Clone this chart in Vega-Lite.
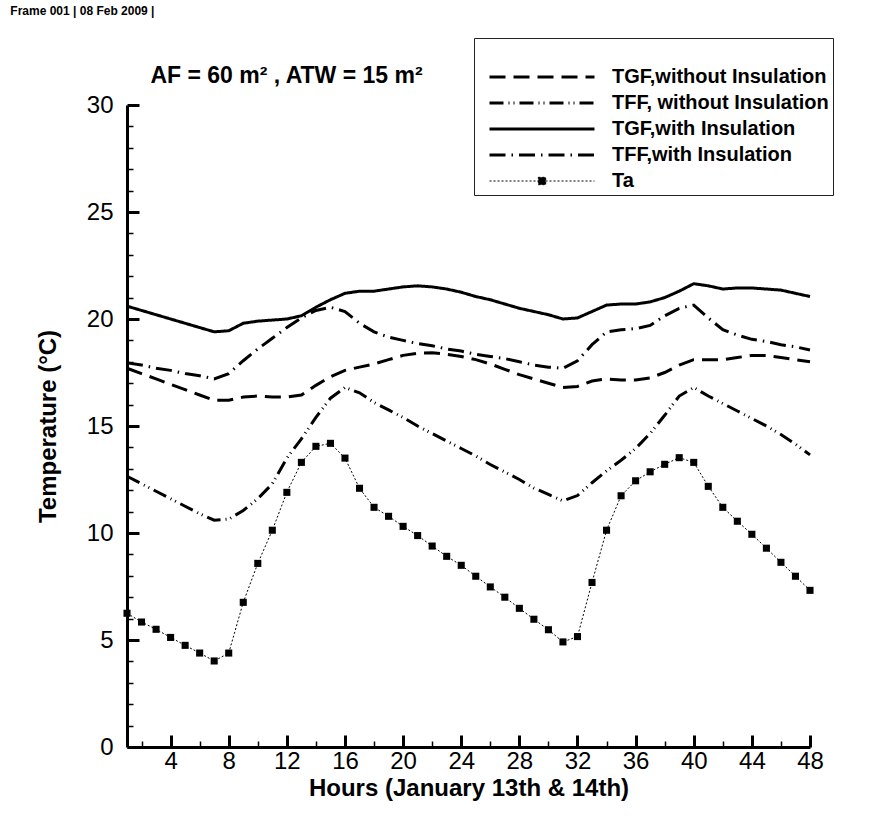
{
  "$schema": "https://vega.github.io/schema/vega-lite/v6.json",
  "padding": {"left": 10, "top": 4, "right": 5, "bottom": 5},
  "title": {
    "text": "Frame 001 | 08 Feb 2009 |",
    "anchor": "start",
    "frame": "bounds",
    "font": "Liberation Sans",
    "fontSize": 12,
    "fontWeight": "bold",
    "color": "black",
    "dx": -26,
    "offset": 20
  },
  "data": {
    "values": [
      {"hour": 1, "gf0": 17.7, "ff0": 12.65, "gf1": 20.6, "ff1": 17.95, "ta": 6.25},
      {"hour": 2, "gf0": 17.45, "ff0": 12.3, "gf1": 20.4, "ff1": 17.85, "ta": 5.84},
      {"hour": 3, "gf0": 17.2, "ff0": 11.95, "gf1": 20.2, "ff1": 17.7, "ta": 5.5},
      {"hour": 4, "gf0": 16.95, "ff0": 11.6, "gf1": 20.0, "ff1": 17.6, "ta": 5.12},
      {"hour": 5, "gf0": 16.7, "ff0": 11.25, "gf1": 19.8, "ff1": 17.45, "ta": 4.75},
      {"hour": 6, "gf0": 16.45, "ff0": 10.9, "gf1": 19.6, "ff1": 17.35, "ta": 4.39},
      {"hour": 7, "gf0": 16.2, "ff0": 10.6, "gf1": 19.4, "ff1": 17.2, "ta": 4.02},
      {"hour": 8, "gf0": 16.2, "ff0": 10.65, "gf1": 19.45, "ff1": 17.45, "ta": 4.39},
      {"hour": 9, "gf0": 16.35, "ff0": 11.05, "gf1": 19.8, "ff1": 18.05, "ta": 6.76},
      {"hour": 10, "gf0": 16.4, "ff0": 11.6, "gf1": 19.9, "ff1": 18.6, "ta": 8.58},
      {"hour": 11, "gf0": 16.35, "ff0": 12.3, "gf1": 19.95, "ff1": 19.1, "ta": 10.13},
      {"hour": 12, "gf0": 16.35, "ff0": 13.5, "gf1": 20.0, "ff1": 19.6, "ta": 11.9},
      {"hour": 13, "gf0": 16.45, "ff0": 14.4, "gf1": 20.15, "ff1": 20.05, "ta": 13.3},
      {"hour": 14, "gf0": 16.9, "ff0": 15.4, "gf1": 20.55, "ff1": 20.4, "ta": 14.05},
      {"hour": 15, "gf0": 17.3, "ff0": 16.3, "gf1": 20.9, "ff1": 20.55, "ta": 14.19},
      {"hour": 16, "gf0": 17.6, "ff0": 16.8, "gf1": 21.2, "ff1": 20.35, "ta": 13.5},
      {"hour": 17, "gf0": 17.75, "ff0": 16.55, "gf1": 21.3, "ff1": 19.8, "ta": 12.09},
      {"hour": 18, "gf0": 17.9, "ff0": 16.1, "gf1": 21.3, "ff1": 19.4, "ta": 11.2},
      {"hour": 19, "gf0": 18.1, "ff0": 15.75, "gf1": 21.4, "ff1": 19.15, "ta": 10.78},
      {"hour": 20, "gf0": 18.3, "ff0": 15.4, "gf1": 21.5, "ff1": 19.0, "ta": 10.31},
      {"hour": 21, "gf0": 18.4, "ff0": 15.0, "gf1": 21.55, "ff1": 18.85, "ta": 9.88},
      {"hour": 22, "gf0": 18.42, "ff0": 14.65, "gf1": 21.5, "ff1": 18.75, "ta": 9.39},
      {"hour": 23, "gf0": 18.35, "ff0": 14.3, "gf1": 21.4, "ff1": 18.6, "ta": 8.91},
      {"hour": 24, "gf0": 18.25, "ff0": 13.95, "gf1": 21.25, "ff1": 18.5, "ta": 8.49},
      {"hour": 25, "gf0": 18.1, "ff0": 13.6, "gf1": 21.05, "ff1": 18.35, "ta": 7.98},
      {"hour": 26, "gf0": 17.9, "ff0": 13.2, "gf1": 20.9, "ff1": 18.25, "ta": 7.48},
      {"hour": 27, "gf0": 17.65, "ff0": 12.85, "gf1": 20.7, "ff1": 18.15, "ta": 7.0},
      {"hour": 28, "gf0": 17.4, "ff0": 12.5, "gf1": 20.5, "ff1": 18.0, "ta": 6.48},
      {"hour": 29, "gf0": 17.2, "ff0": 12.1, "gf1": 20.35, "ff1": 17.85, "ta": 5.97},
      {"hour": 30, "gf0": 17.0, "ff0": 11.8, "gf1": 20.2, "ff1": 17.75, "ta": 5.48},
      {"hour": 31, "gf0": 16.8, "ff0": 11.5, "gf1": 20.0, "ff1": 17.7, "ta": 4.91},
      {"hour": 32, "gf0": 16.85, "ff0": 11.75, "gf1": 20.05, "ff1": 18.05, "ta": 5.16},
      {"hour": 33, "gf0": 17.1, "ff0": 12.35, "gf1": 20.35, "ff1": 18.8, "ta": 7.69},
      {"hour": 34, "gf0": 17.2, "ff0": 12.9, "gf1": 20.65, "ff1": 19.4, "ta": 10.13},
      {"hour": 35, "gf0": 17.15, "ff0": 13.4, "gf1": 20.7, "ff1": 19.5, "ta": 11.74},
      {"hour": 36, "gf0": 17.15, "ff0": 13.95, "gf1": 20.7, "ff1": 19.55, "ta": 12.44},
      {"hour": 37, "gf0": 17.25, "ff0": 14.65, "gf1": 20.8, "ff1": 19.7, "ta": 12.86},
      {"hour": 38, "gf0": 17.5, "ff0": 15.5, "gf1": 21.0, "ff1": 20.15, "ta": 13.21},
      {"hour": 39, "gf0": 17.85, "ff0": 16.4, "gf1": 21.3, "ff1": 20.5, "ta": 13.52},
      {"hour": 40, "gf0": 18.1, "ff0": 16.8, "gf1": 21.65, "ff1": 20.65, "ta": 13.3},
      {"hour": 41, "gf0": 18.1, "ff0": 16.4, "gf1": 21.55, "ff1": 20.05, "ta": 12.18},
      {"hour": 42, "gf0": 18.1, "ff0": 16.05, "gf1": 21.4, "ff1": 19.5, "ta": 11.2},
      {"hour": 43, "gf0": 18.2, "ff0": 15.7, "gf1": 21.45, "ff1": 19.25, "ta": 10.55},
      {"hour": 44, "gf0": 18.3, "ff0": 15.35, "gf1": 21.45, "ff1": 19.05, "ta": 9.94},
      {"hour": 45, "gf0": 18.3, "ff0": 15.0, "gf1": 21.4, "ff1": 18.95, "ta": 9.29},
      {"hour": 46, "gf0": 18.2, "ff0": 14.6, "gf1": 21.35, "ff1": 18.8, "ta": 8.63},
      {"hour": 47, "gf0": 18.1, "ff0": 14.15, "gf1": 21.2, "ff1": 18.7, "ta": 7.98},
      {"hour": 48, "gf0": 18.0, "ff0": 13.65, "gf1": 21.05, "ff1": 18.55, "ta": 7.32}
    ]
  },
  "spacing": 0,
  "vconcat": [
    {
      "width": 683,
      "height": 642,
      "title": {
        "text": "AF = 60 m² , ATW = 15 m²",
        "anchor": "middle",
        "frame": "group",
        "dx": -182,
        "font": "Liberation Sans",
        "fontSize": 23,
        "fontWeight": "bold",
        "color": "black",
        "offset": 5
      },
      "encoding": {
        "x": {
          "field": "hour",
          "type": "quantitative",
          "scale": {"domain": [1, 48], "nice": false, "zero": false},
          "axis": {
            "title": "Hours (January 13th & 14th)",
            "values": [2, 4, 6, 8, 10, 12, 14, 16, 18, 20, 22, 24, 26, 28, 30, 32, 34, 36, 38, 40, 42, 44, 46, 48],
            "labelExpr": "datum.value % 4 === 0 ? datum.label : ''",
            "tickSize": {"condition": {"test": "datum.value % 4 === 0", "value": -12}, "value": -6},
            "tickWidth": {"condition": {"test": "datum.value % 4 === 0", "value": 3}, "value": 1.5},
            "labelPadding": 14,
            "titlePadding": -3,
            "labelFlush": false,
            "labelOverlap": false
          }
        },
        "y": {
          "field": "temp",
          "type": "quantitative",
          "scale": {"domain": [0, 30], "nice": false, "zero": false},
          "axis": {
            "title": "Temperature (°C)",
            "values": [0, 1, 2, 3, 4, 5, 6, 7, 8, 9, 10, 11, 12, 13, 14, 15, 16, 17, 18, 19, 20, 21, 22, 23, 24, 25, 26, 27, 28, 29, 30],
            "labelExpr": "datum.value % 5 === 0 ? datum.label : ''",
            "tickSize": {"condition": {"test": "datum.value % 5 === 0", "value": -12}, "value": -6},
            "tickWidth": {"condition": {"test": "datum.value % 5 === 0", "value": 3}, "value": 1.5},
            "labelPadding": 26,
            "titlePadding": 26,
            "labelFlush": false,
            "labelOverlap": false
          }
        }
      },
      "layer": [
        {
          "transform": [{"fold": ["gf0", "ff0", "gf1", "ff1"], "as": ["series", "temp"]}],
          "mark": {"type": "line", "color": "black", "strokeWidth": 3},
          "encoding": {
            "strokeDash": {
              "field": "series",
              "type": "nominal",
              "scale": {
                "domain": ["gf0", "ff0", "gf1", "ff1", "ta"],
                "range": [[16, 8], [14, 5, 1, 4, 1, 5], [1, 0], [16, 6, 1.5, 6], [2, 2]]
              },
              "legend": {
                "title": " ",
                "titleFontSize": 8,
                "titlePadding": 17,
                "orient": "none",
                "legendX": 347,
                "legendY": -67,
                "padding": 4,
                "strokeColor": "#222",
                "fillColor": "white",
                "labelFont": "Liberation Sans",
                "labelFontSize": 20,
                "labelFontWeight": "bold",
                "labelColor": "black",
                "labelLimit": 400,
                "symbolType": "M-5,0H5",
                "symbolSize": 441,
                "symbolStrokeWidth": 3,
                "symbolStrokeColor": "black",
                "symbolOffset": 54,
                "labelOffset": 60,
                "rowPadding": 6,
                "labelExpr": "datum.value === 'gf0' ? 'TGF,without Insulation' : datum.value === 'ff0' ? 'TFF, without Insulation' : datum.value === 'gf1' ? 'TGF,with Insulation' : datum.value === 'ff1' ? 'TFF,with Insulation' : 'Ta'",
                "encode": {
                  "symbols": {
                    "update": {
                      "shape": {"signal": "datum.value === 'ta' ? 'M-5,0H5M-0.35,-0.35H0.35V0.35H-0.35Z' : 'M-5,0H5'"},
                      "strokeWidth": {"signal": "datum.value === 'ta' ? 1 : 3"},
                      "stroke": {"value": "black"},
                      "fill": {"value": "black"}
                    }
                  }
                }
              }
            }
          }
        },
        {
          "transform": [{"fold": ["ta"], "as": ["series", "temp"]}],
          "mark": {"type": "line", "color": "black", "strokeWidth": 1},
          "encoding": {
            "strokeDash": {"field": "series", "type": "nominal", "legend": null}
          }
        },
        {
          "transform": [{"fold": ["ta"], "as": ["series", "temp"]}],
          "mark": {"type": "point", "shape": "square", "filled": true, "size": 50, "color": "black", "opacity": 1}
        }
      ]
    }
  ],
  "config": {
    "font": "Liberation Sans",
    "background": "white",
    "view": {"stroke": null},
    "axis": {
      "grid": false,
      "domainColor": "black",
      "domainWidth": 3,
      "tickColor": "black",
      "labelFont": "Liberation Sans",
      "labelFontSize": 24,
      "labelColor": "black",
      "titleFont": "Liberation Sans",
      "titleFontSize": 24,
      "titleFontWeight": "bold",
      "titleColor": "black"
    }
  }
}
